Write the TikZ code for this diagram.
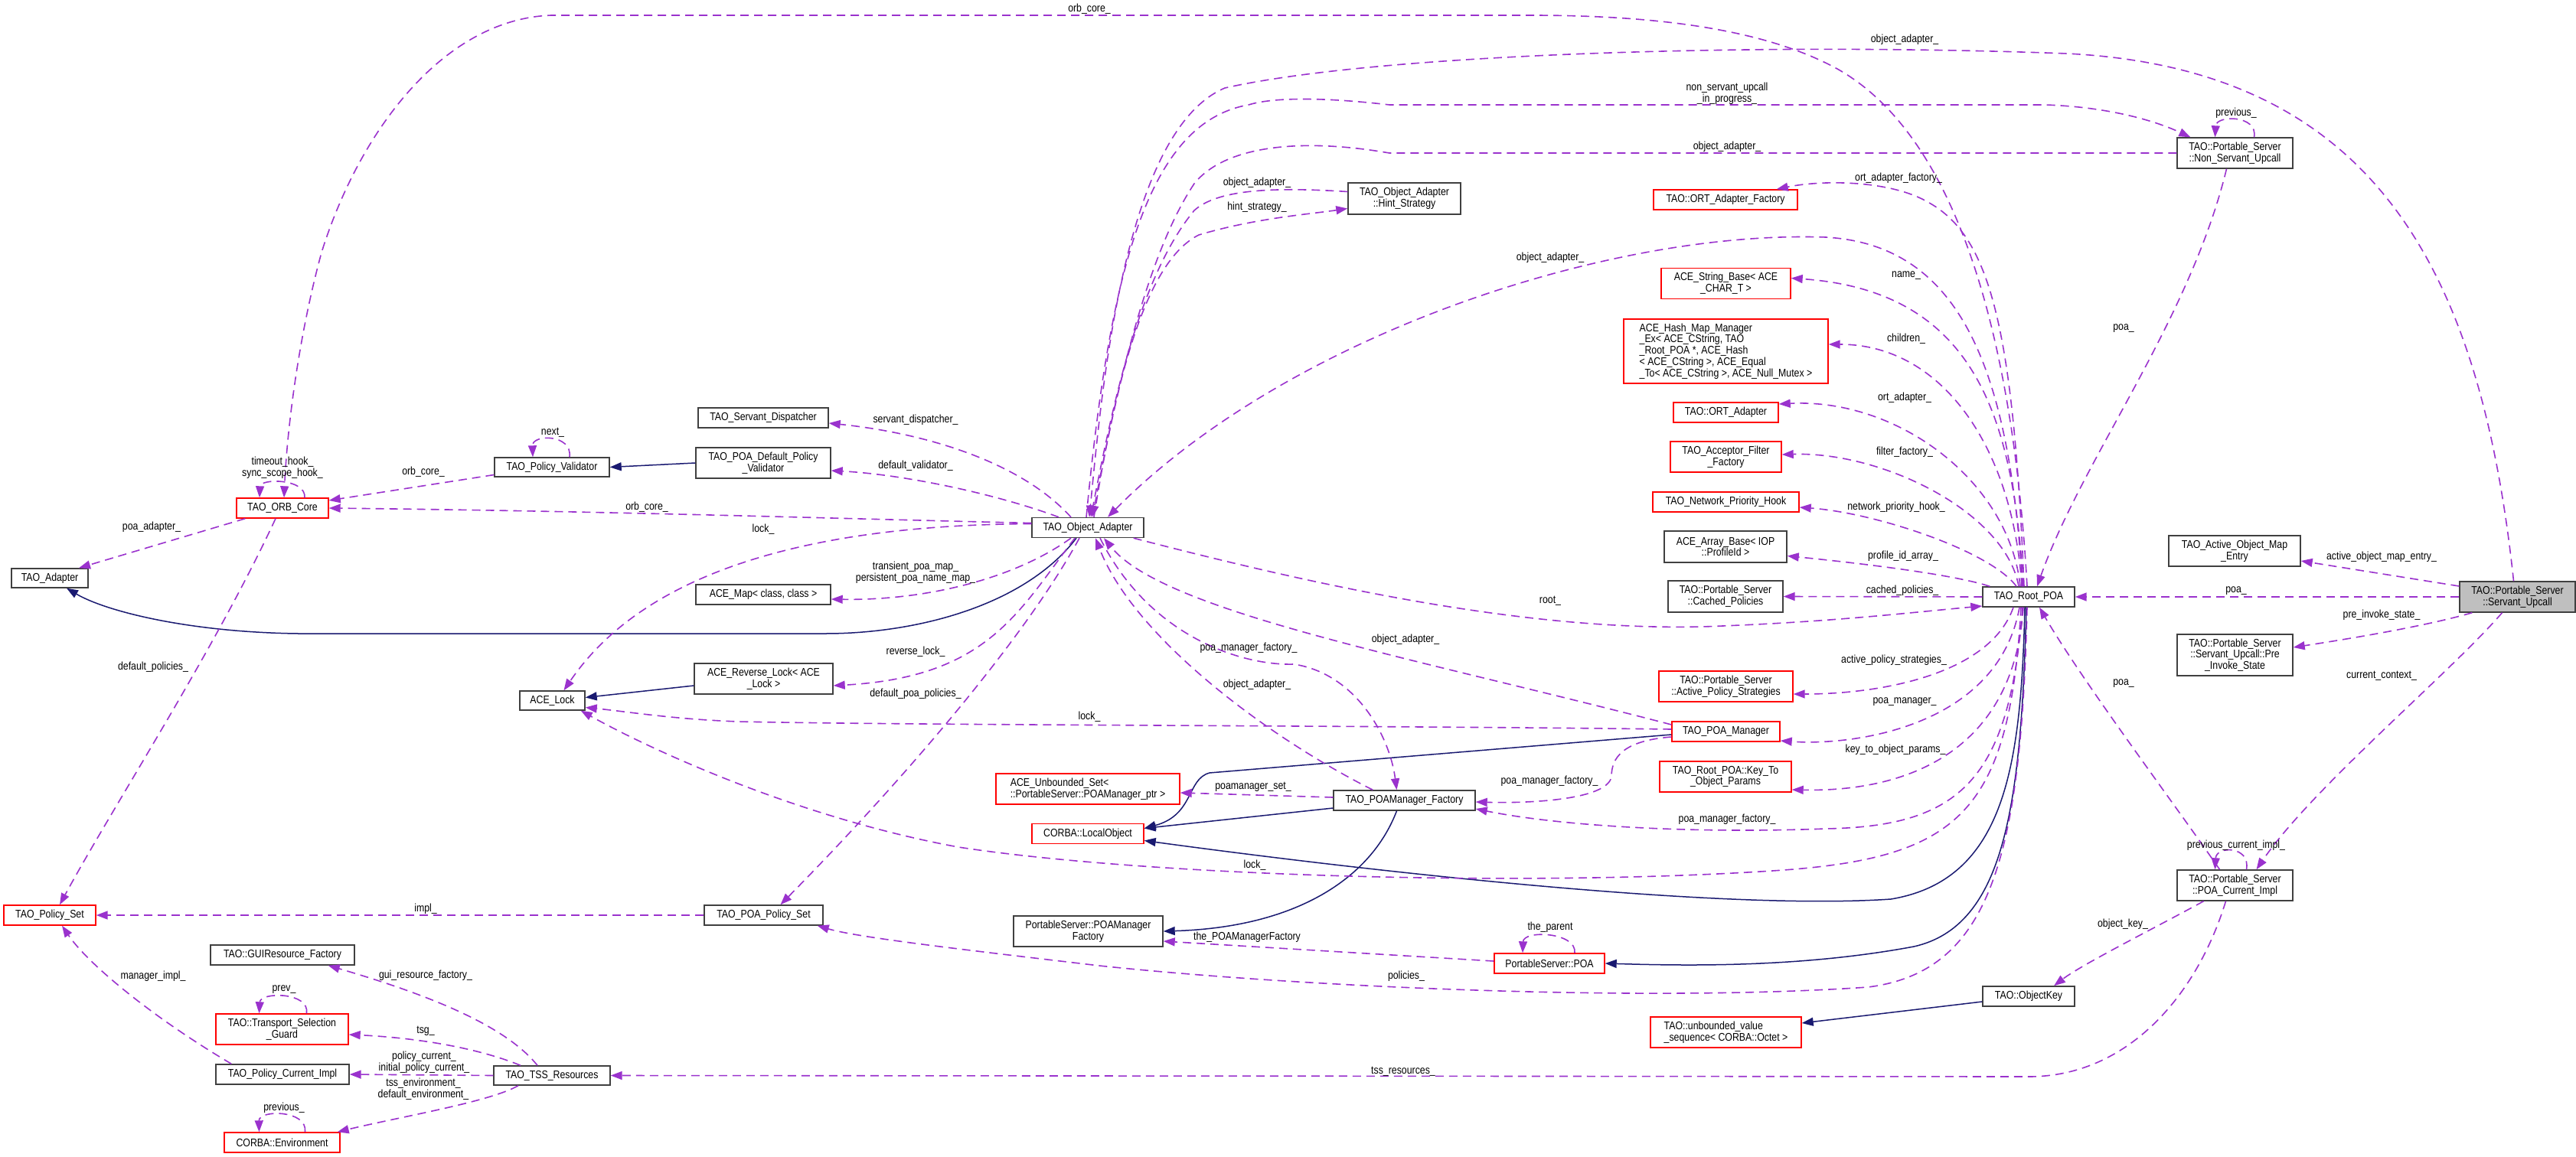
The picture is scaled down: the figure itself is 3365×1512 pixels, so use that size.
\documentclass[tikz,border=0pt]{standalone}
\usepackage{fontspec}
\setmainfont[FakeStretch=0.85]{Liberation Sans}
\usetikzlibrary{arrows.meta,calc}
\definecolor{usecol}{HTML}{9A32CD}
\definecolor{inhcol}{HTML}{191970}
\definecolor{boxgray}{HTML}{BFBFBF}
\newcommand\dfs{\fontsize{14.5}{14.8}\selectfont}
\tikzset{
  cls/.style={draw=black!75, line width=1.4pt, fill=white, inner sep=0pt, align=center, font=\dfs},
  redcls/.style={cls, draw=red},
  lbl/.style={inner sep=0pt, align=center, font=\dfs},
  use/.style={draw=usecol, line width=1.6pt, dash pattern=on 11pt off 7pt, -{Triangle[length=15pt,width=11pt]}},
  inh/.style={draw=inhcol, line width=1.5pt, -{Triangle[length=15pt,width=11pt]}},
}
\begin{document}
\begin{tikzpicture}[x=1pt,y=-1pt]
\useasboundingbox (0,0) rectangle (3365,1512);
% ---------------- nodes ----------------
\node[cls, minimum width=146pt, minimum height=26pt] (OA) at (1421,689.5) {TAO\_Object\_Adapter};
\node[cls, minimum width=147pt, minimum height=41pt] (Hint) at (1834.5,259.5) {TAO\_Object\_Adapter\\::Hint\_Strategy};
\node[redcls, minimum width=188pt, minimum height=26pt] (ORTF) at (2254,261) {TAO::ORT\_Adapter\_Factory};
\node[redcls, minimum width=169pt, minimum height=40pt] (StrBase) at (2254.5,370.5) {ACE\_String\_Base< ACE\\\_CHAR\_T >};
\node[redcls, minimum width=267pt, minimum height=84pt, align=left] (HashMap) at (2254.5,459) {ACE\_Hash\_Map\_Manager\\\_Ex< ACE\_CString, TAO\\\_Root\_POA *, ACE\_Hash\\< ACE\_CString >, ACE\_Equal\\\_To< ACE\_CString >, ACE\_Null\_Mutex >};
\node[redcls, minimum width=137pt, minimum height=26pt] (ORTA) at (2254.5,539) {TAO::ORT\_Adapter};
\node[redcls, minimum width=145pt, minimum height=40pt] (AFF) at (2254.5,597) {TAO\_Acceptor\_Filter\\\_Factory};
\node[redcls, minimum width=191pt, minimum height=26pt] (NPH) at (2254.5,656) {TAO\_Network\_Priority\_Hook};
\node[cls, minimum width=160pt, minimum height=41pt] (ArrBase) at (2254,714.5) {ACE\_Array\_Base< IOP\\::ProfileId >};
\node[cls, minimum width=150pt, minimum height=41pt] (Cached) at (2254,779.5) {TAO::Portable\_Server\\::Cached\_Policies};
\node[redcls, minimum width=175pt, minimum height=40pt] (APS) at (2254.5,897) {TAO::Portable\_Server\\::Active\_Policy\_Strategies};
\node[redcls, minimum width=141pt, minimum height=26pt] (POAM) at (2254.5,956) {TAO\_POA\_Manager};
\node[redcls, minimum width=172pt, minimum height=40pt] (KeyTo) at (2254,1015) {TAO\_Root\_POA::Key\_To\\\_Object\_Params};
\node[cls, minimum width=120pt, minimum height=26pt] (RootPOA) at (2650,780) {TAO\_Root\_POA};
\node[cls, minimum width=151pt, minimum height=40pt] (NSU) at (2919.5,200) {TAO::Portable\_Server\\::Non\_Servant\_Upcall};
\node[cls, fill=boxgray, minimum width=151pt, minimum height=40pt] (SU) at (3288.5,780) {TAO::Portable\_Server\\::Servant\_Upcall};
\node[cls, minimum width=172pt, minimum height=40pt] (AOME) at (2919,720) {TAO\_Active\_Object\_Map\\\_Entry};
\node[cls, minimum width=151pt, minimum height=54pt] (PIS) at (2919.5,856) {TAO::Portable\_Server\\::Servant\_Upcall::Pre\\\_Invoke\_State};
\node[cls, minimum width=151pt, minimum height=40pt] (PCI) at (2919.5,1157) {TAO::Portable\_Server\\::POA\_Current\_Impl};
\node[cls, minimum width=120pt, minimum height=26pt] (OK) at (2650,1302) {TAO::ObjectKey};
\node[redcls, minimum width=197pt, minimum height=40pt, align=left] (UVS) at (2254.5,1349) {TAO::unbounded\_value\\\_sequence< CORBA::Octet >};
\node[redcls, minimum width=144pt, minimum height=26pt] (PSPOA) at (2024,1259) {PortableServer::POA};
\node[cls, minimum width=185pt, minimum height=26pt] (POAMF) at (1834.5,1046) {TAO\_POAManager\_Factory};
\node[cls, minimum width=195pt, minimum height=40pt] (PSPOAMF) at (1421.5,1217) {PortableServer::POAManager\\Factory};
\node[redcls, minimum width=146pt, minimum height=26pt] (LocalObj) at (1421,1089.5) {CORBA::LocalObject};
\node[redcls, minimum width=240pt, minimum height=40pt, align=left] (UnbSet) at (1421,1031) {ACE\_Unbounded\_Set<\\ ::PortableServer::POAManager\_ptr >};
\node[cls, minimum width=155pt, minimum height=26pt] (POAPS) at (997.5,1196) {TAO\_POA\_Policy\_Set};
\node[redcls, minimum width=120pt, minimum height=26pt] (PolicySet) at (65,1196) {TAO\_Policy\_Set};
\node[cls, minimum width=188pt, minimum height=26pt] (GUI) at (369,1248) {TAO::GUIResource\_Factory};
\node[redcls, minimum width=173pt, minimum height=40pt] (TSG) at (368.5,1345) {TAO::Transport\_Selection\\\_Guard};
\node[cls, minimum width=174pt, minimum height=26pt] (PCurImpl) at (369,1404) {TAO\_Policy\_Current\_Impl};
\node[cls, minimum width=152pt, minimum height=25pt] (TSS) at (721,1405.5) {TAO\_TSS\_Resources};
\node[redcls, minimum width=151pt, minimum height=26pt] (Env) at (368.5,1493) {CORBA::Environment};
\node[cls, minimum width=170pt, minimum height=26pt] (SD) at (997,546) {TAO\_Servant\_Dispatcher};
\node[cls, minimum width=176pt, minimum height=40pt] (DPV) at (997,605) {TAO\_POA\_Default\_Policy\\\_Validator};
\node[cls, minimum width=176pt, minimum height=26pt] (ACEMap) at (997,777) {ACE\_Map< class, class >};
\node[cls, minimum width=181pt, minimum height=40pt] (RevLock) at (997.5,887) {ACE\_Reverse\_Lock< ACE\\\_Lock >};
\node[cls, minimum width=150pt, minimum height=25pt] (PV) at (721,610.5) {TAO\_Policy\_Validator};
\node[redcls, minimum width=120pt, minimum height=26pt] (ORBCore) at (369,664) {TAO\_ORB\_Core};
\node[cls, minimum width=100pt, minimum height=25pt] (Adapter) at (65,755.5) {TAO\_Adapter};
\node[cls, minimum width=85pt, minimum height=25pt] (ACELock) at (721.5,915.5) {ACE\_Lock};
% ---------------- inheritance ----------------
\draw[inh] ($(OA.south)+(-15,0)$) .. controls (1340,790) and (1200,828) .. (1078,828) -- (420,828) .. controls (260,830) and (140,800) .. ($(Adapter.south)+(22,0)$);
\draw[inh] (DPV.west) -- (PV.east);
\draw[inh] ($(RevLock.west)+(0,9)$) -- ($(ACELock.east)+(0,-4)$);
\draw[inh] ($(POAM.west)+(0,4)$) -- (1580,1010) .. controls (1550,1018) and (1560,1065) .. ($(LocalObj.east)+(0,-7)$);
\draw[inh] ($(POAMF.west)+(0,10)$) -- ($(LocalObj.east)+(0,-7)$);
\draw[inh] ($(RootPOA.south)+(-5,0)$) .. controls (2640,1000) and (2620,1150) .. (2470,1175) .. controls (2250,1190) and (1800,1140) .. ($(LocalObj.east)+(0,9)$);
\draw[inh] ($(RootPOA.south)+(-3,0)$) .. controls (2640,1050) and (2620,1210) .. (2500,1237) .. controls (2350,1265) and (2200,1262) .. (PSPOA.east);
\draw[inh] ($(OK.west)+(0,7)$) -- ($(UVS.east)+(0,-12)$);
\draw[inh] ($(POAMF.south)+(-10,0)$) .. controls (1790,1150) and (1690,1212) .. (PSPOAMF.east);
% ---------------- usage: into / out of Object_Adapter ----------------
\draw[use] ($(SU.north)+(-5,0)$) .. controls (3240,350) and (3100,90) .. (2700,70) .. controls (2300,55) and (1800,70) .. (1600,115) .. controls (1470,170) and (1440,500) .. ($(OA.north)+(2,0)$);
\draw[use] (NSU.west) -- (1815,200) .. controls (1700,180) and (1600,190) .. (1560,240) .. controls (1500,330) and (1460,500) .. ($(OA.north)+(6,0)$);
\draw[use] ($(OA.north)+(-2,0)$) .. controls (1450,350) and (1500,160) .. (1631,137) .. controls (1660,128) and (1720,126) .. (1815,137) -- (2672,137) .. controls (2760,140) and (2820,160) .. ($(NSU.north west)+(18,0)$);
\draw[use] ($(Hint.west)+(0,-9)$) .. controls (1660,244) and (1590,248) .. (1560,275) .. controls (1490,360) and (1455,520) .. ($(OA.north)+(4,0)$);
\draw[use] ($(OA.north)+(8,0)$) .. controls (1460,480) and (1500,340) .. (1566,307) .. controls (1640,285) and (1710,280) .. ($(Hint.west)+(0,13)$);
\draw[use] ($(RootPOA.north)+(-8,0)$) .. controls (2625,480) and (2560,320) .. (2385,310) .. controls (2100,300) and (1680,440) .. ($(OA.north)+(26,0)$);
\draw[use] ($(OA.north)+(-22,0)$) .. controls (1330,600) and (1200,565) .. ($(SD.east)+(0,7)$);
\draw[use] ($(OA.north)+(-38,0)$) .. controls (1300,645) and (1180,620) .. ($(DPV.east)+(0,10)$);
\draw[use] ($(OA.west)+(0,-6)$) .. controls (1100,678) and (800,668) .. (ORBCore.east);
\draw[use] ($(OA.west)+(0,-5)$) .. controls (1050,686) and (840,750) .. ($(ACELock.north)+(15,0)$);
\draw[use] ($(OA.south)+(-22,0)$) .. controls (1320,760) and (1200,785) .. ($(ACEMap.east)+(0,6)$);
\draw[use] ($(OA.south)+(-17,0)$) .. controls (1330,800) and (1290,885) .. ($(RevLock.east)+(0,9)$);
\draw[use] ($(OA.south)+(-11,0)$) .. controls (1330,850) and (1150,1050) .. ($(POAPS.north)+(22,0)$);
\draw[use] ($(OA.south)+(16,0)$) .. controls (1500,830) and (1620,870) .. (1690,868) .. controls (1770,880) and (1815,960) .. ($(POAMF.north)+(-10,0)$);
\draw[use] ($(POAM.west)+(0,-9)$) .. controls (1850,860) and (1520,800) .. ($(OA.south)+(21,0)$);
\draw[use] ($(POAMF.north west)+(52,0)$) .. controls (1650,960) and (1480,830) .. ($(OA.south)+(10,0)$);
\draw[use] ($(OA.south east)+(-14,0)$) .. controls (1700,760) and (2000,830) .. (2250,818) .. controls (2400,812) and (2500,800) .. ($(RootPOA.west)+(0,12)$);
% ---------------- usage: from Root_POA ----------------
\draw[use] ($(RootPOA.north)+(-2,0)$) .. controls (2630,450) and (2560,180) .. (2400,90) .. controls (2300,35) and (2150,20) .. (2000,20) -- (720,20) .. controls (580,25) and (470,170) .. (420,330) .. controls (390,440) and (375,560) .. ($(ORBCore.north)+(2,0)$);
\draw[use] ($(RootPOA.north)+(-6,0)$) .. controls (2630,430) and (2600,310) .. (2520,265) .. controls (2470,235) and (2380,235) .. ($(ORTF.north east)+(-28,0)$);
\draw[use] ($(RootPOA.north)+(-7,0)$) .. controls (2630,545) and (2580,380) .. ($(StrBase.east)+(0,-7)$);
\draw[use] ($(RootPOA.north)+(-9,0)$) .. controls (2630,590) and (2540,450) .. ($(HashMap.east)+(0,-9)$);
\draw[use] ($(RootPOA.north)+(-11,0)$) .. controls (2625,630) and (2480,520) .. ($(ORTA.east)+(0,-11)$);
\draw[use] ($(RootPOA.north)+(-13,0)$) .. controls (2620,670) and (2460,590) .. ($(AFF.east)+(0,-3)$);
\draw[use] ($(RootPOA.north)+(-16,0)$) .. controls (2600,720) and (2450,670) .. ($(NPH.east)+(0,7)$);
\draw[use] ($(RootPOA.north west)+(10,0)$) .. controls (2550,750) and (2420,735) .. ($(ArrBase.east)+(0,12)$);
\draw[use] (RootPOA.west) -- (Cached.east);
\draw[use] ($(RootPOA.south)+(-20,0)$) .. controls (2600,880) and (2460,907) .. ($(APS.east)+(0,10)$);
\draw[use] ($(RootPOA.south)+(-12,0)$) .. controls (2610,950) and (2420,975) .. ($(POAM.east)+(0,12)$);
\draw[use] ($(RootPOA.south)+(-7,0)$) .. controls (2630,990) and (2480,1035) .. ($(KeyTo.east)+(0,17)$);
\draw[use] ($(RootPOA.south)+(-8,0)$) .. controls (2625,1020) and (2560,1080) .. (2385,1083) .. controls (2200,1090) and (2030,1078) .. ($(POAMF.east)+(0,11)$);
\draw[use] ($(RootPOA.south)+(-10,0)$) .. controls (2625,1060) and (2560,1120) .. (2330,1137) .. controls (2000,1160) and (1500,1145) .. (1252,1107) .. controls (1050,1070) and (860,985) .. ($(ACELock.south east)+(-6,0)$);
\draw[use] ($(RootPOA.south)+(-2,0)$) .. controls (2640,1120) and (2600,1270) .. (2440,1290) .. controls (2150,1310) and (1700,1290) .. (1436,1262) .. controls (1250,1240) and (1120,1225) .. ($(POAPS.south east)+(-8,0)$);
% ---------------- usage: into Root_POA / right side ----------------
\draw[use] ($(NSU.south)+(-11,0)$) .. controls (2860,420) and (2720,600) .. ($(RootPOA.north)+(11,0)$);
\draw[use] (SU.west) -- (RootPOA.east);
\draw[use] ($(PCI.north)+(-20,0)$) .. controls (2840,1050) and (2720,890) .. ($(RootPOA.south)+(14,0)$);
\draw[use] ($(SU.west)+(0,-14)$) -- ($(AOME.east)+(0,13)$);
\draw[use] ($(SU.south west)+(17,0)$) .. controls (3180,815) and (3100,830) .. ($(PIS.east)+(0,-10)$);
\draw[use] ($(SU.south)+(-20,0)$) .. controls (3200,880) and (3020,1030) .. ($(PCI.north)+(28,0)$);
\draw[use] ($(PCI.north)+(15,0)$) .. controls (2940,1105) and (2895,1105) .. ($(PCI.north)+(-26,0)$);
\draw[use] ($(PCI.south)+(-41,0)$) .. controls (2820,1210) and (2720,1260) .. ($(OK.north)+(33,0)$);
\draw[use] ($(PCI.south)+(-12,0)$) .. controls (2870,1300) and (2780,1407) .. (2650,1407) -- (TSS.east);
\draw[use] ($(NSU.north)+(25,0)$) .. controls (2950,150) and (2895,150) .. ($(NSU.north)+(-26,0)$);
% ---------------- usage: middle ----------------
\draw[use] ($(POAM.west)+(0,-3)$) .. controls (1800,948) and (1200,948) .. (965,943) .. controls (880,940) and (820,930) .. ($(ACELock.east)+(0,9)$);
\draw[use] ($(POAM.west)+(0,7)$) .. controls (2120,968) and (2105,990) .. (2105,1015) .. controls (2100,1045) and (2000,1050) .. ($(POAMF.east)+(0,2)$);
\draw[use] ($(POAMF.west)+(0,-4)$) -- ($(UnbSet.east)+(0,5)$);
\draw[use] ($(PSPOA.west)+(0,-3)$) -- ($(PSPOAMF.east)+(0,13)$);
\draw[use] ($(PSPOA.north)+(33,0)$) .. controls (2060,1218) and (1990,1215) .. ($(PSPOA.north)+(-35,0)$);
% ---------------- usage: left ----------------
\draw[use] ($(PV.west)+(0,10)$) -- ($(ORBCore.east)+(0,-10)$);
\draw[use] ($(PV.north)+(23,0)$) .. controls (748,567) and (695,567) .. ($(PV.north)+(-25,0)$);
\draw[use] ($(ORBCore.north)+(29,0)$) .. controls (400,625) and (340,625) .. ($(ORBCore.north)+(-30,0)$);
\draw[use] ($(ORBCore.south west)+(12,0)$) -- ($(Adapter.north)+(38,0)$);
\draw[use] ($(ORBCore.south)+(-9,0)$) .. controls (280,850) and (150,1050) .. ($(PolicySet.north)+(13,0)$);
\draw[use] (POAPS.west) -- (PolicySet.east);
\draw[use] ($(PCurImpl.north west)+(21,0)$) .. controls (200,1330) and (115,1260) .. ($(PolicySet.south)+(16,0)$);
\draw[use] ($(TSS.north)+(-19,0)$) .. controls (660,1340) and (560,1300) .. ($(GUI.south east)+(-35,0)$);
\draw[use] ($(TSS.north)+(-41,0)$) .. controls (620,1368) and (540,1356) .. ($(TSG.east)+(0,7)$);
\draw[use] (TSS.west) -- (PCurImpl.east);
\draw[use] ($(TSS.south)+(-44,0)$) .. controls (640,1440) and (520,1460) .. ($(Env.north east)+(-4,0)$);
\draw[use] ($(TSG.north)+(32,0)$) .. controls (405,1296) and (340,1296) .. ($(TSG.north)+(-30,0)$);
\draw[use] ($(Env.north)+(30,0)$) .. controls (402,1450) and (338,1450) .. ($(Env.north)+(-30,0)$);
% ---------------- labels ----------------
\node[lbl] (l1) at (1423,12) {orb\_core\_};
\node[lbl] (l2) at (2488,52) {object\_adapter\_};
\node[lbl] (l3) at (2256,122) {non\_servant\_upcall\\\_in\_progress\_};
\node[lbl] (l4) at (2256,192) {object\_adapter\_};
\node[lbl] (l5) at (1642,239) {object\_adapter\_};
\node[lbl] (l6) at (1642,271) {hint\_strategy\_};
\node[lbl] (l7) at (2921,148) {previous\_};
\node[lbl] (l8) at (2480,233) {ort\_adapter\_factory\_};
\node[lbl] (l9) at (2025,337) {object\_adapter\_};
\node[lbl] (l10) at (2490,360) {name\_};
\node[lbl] (l11) at (2774,429) {poa\_};
\node[lbl] (l12) at (2490,443) {children\_};
\node[lbl] (l13) at (2488,520) {ort\_adapter\_};
\node[lbl] (l14) at (722,565) {next\_};
\node[lbl] (l15) at (1196,549) {servant\_dispatcher\_};
\node[lbl] (l16) at (2488,591) {filter\_factory\_};
\node[lbl] (l17) at (369,611) {timeout\_hook\_\\sync\_scope\_hook\_};
\node[lbl] (l18) at (553,617) {orb\_core\_};
\node[lbl] (l19) at (1196,609) {default\_validator\_};
\node[lbl] (l20) at (845,663) {orb\_core\_};
\node[lbl] (l21) at (2477,663) {network\_priority\_hook\_};
\node[lbl] (l22) at (198,689) {poa\_adapter\_};
\node[lbl] (l23) at (997,692) {lock\_};
\node[lbl] (l24) at (3111,728) {active\_object\_map\_entry\_};
\node[lbl] (l25) at (2486,727) {profile\_id\_array\_};
\node[lbl] (l26) at (1196,748) {transient\_poa\_map\_\\persistent\_poa\_name\_map\_};
\node[lbl] (l27) at (2485,772) {cached\_policies\_};
\node[lbl] (l28) at (2921,772) {poa\_};
\node[lbl] (l29) at (2025,785) {root\_};
\node[lbl] (l30) at (3111,804) {pre\_invoke\_state\_};
\node[lbl] (l31) at (1836,836) {object\_adapter\_};
\node[lbl] (l32) at (1631,847) {poa\_manager\_factory\_};
\node[lbl] (l33) at (1196,852) {reverse\_lock\_};
\node[lbl] (l34) at (2474,863) {active\_policy\_strategies\_};
\node[lbl] (l35) at (200,872) {default\_policies\_};
\node[lbl] (l36) at (3111,883) {current\_context\_};
\node[lbl] (l37) at (1642,895) {object\_adapter\_};
\node[lbl] (l38) at (2774,893) {poa\_};
\node[lbl] (l39) at (1196,907) {default\_poa\_policies\_};
\node[lbl] (l40) at (2488,917) {poa\_manager\_};
\node[lbl] (l41) at (1423,937) {lock\_};
\node[lbl] (l42) at (2476,980) {key\_to\_object\_params\_};
\node[lbl] (l43) at (2024,1021) {poa\_manager\_factory\_};
\node[lbl] (l44) at (1637,1028) {poamanager\_set\_};
\node[lbl] (l45) at (2256,1071) {poa\_manager\_factory\_};
\node[lbl] (l46) at (2921,1105) {previous\_current\_impl\_};
\node[lbl] (l47) at (1639,1131) {lock\_};
\node[lbl] (l48) at (556,1188) {impl\_};
\node[lbl] (l49) at (2773,1208) {object\_key\_};
\node[lbl] (l50) at (2025,1212) {the\_parent};
\node[lbl] (l51) at (1629,1225) {the\_POAManagerFactory};
\node[lbl] (l52) at (556,1275) {gui\_resource\_factory\_};
\node[lbl] (l53) at (1837,1276) {policies\_};
\node[lbl] (l54) at (200,1276) {manager\_impl\_};
\node[lbl] (l55) at (371,1293) {prev\_};
\node[lbl] (l56) at (556,1347) {tsg\_};
\node[lbl] (l57) at (554,1388) {policy\_current\_\\initial\_policy\_current\_};
\node[lbl] (l58) at (1833,1400) {tss\_resources\_};
\node[lbl] (l59) at (553,1423) {tss\_environment\_\\default\_environment\_};
\node[lbl] (l60) at (371,1448) {previous\_};
\end{tikzpicture}
\end{document}
